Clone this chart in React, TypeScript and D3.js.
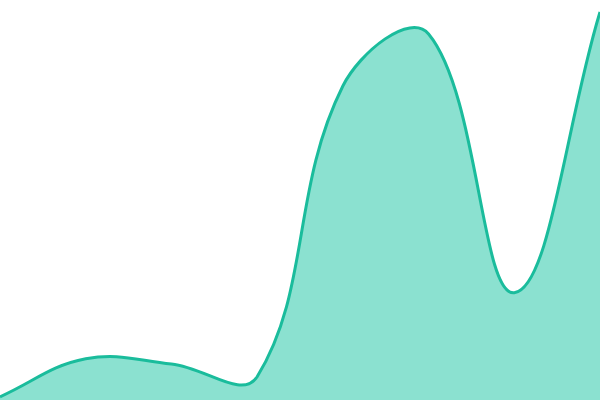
import * as d3 from "d3";
import { useEffect, useRef } from "react";

// eight evenly spaced samples (0..100 scale)
const labels = ["1", "2", "3", "4", "5", "6", "7", "8"];
const values = [0.8, 10.3, 9, 5.8, 78.5, 91.5, 26.8, 97];

const W = 600;
const H = 400;
const TENSION = 0.4;

type Pt = { x: number; y: number };

// spline with distance-weighted control points (tension 0.4)
function splinePath(pts: Pt[], close: boolean) {
  const cps = pts.map((cur, i) => {
    const prev = pts[i - 1] || cur;
    const next = pts[i + 1] || cur;
    const d01 = Math.hypot(cur.x - prev.x, cur.y - prev.y);
    const d12 = Math.hypot(next.x - cur.x, next.y - cur.y);
    let s01 = d01 / (d01 + d12);
    let s12 = d12 / (d01 + d12);
    if (isNaN(s01)) s01 = 0;
    if (isNaN(s12)) s12 = 0;
    const fa = TENSION * s01;
    const fb = TENSION * s12;
    const clampX = (v: number) => Math.max(0, Math.min(W, v));
    const clampY = (v: number) => Math.max(0, Math.min(H, v));
    return {
      px: clampX(cur.x - fa * (next.x - prev.x)),
      py: clampY(cur.y - fa * (next.y - prev.y)),
      nx: clampX(cur.x + fb * (next.x - prev.x)),
      ny: clampY(cur.y + fb * (next.y - prev.y)),
    };
  });
  const p = d3.path();
  p.moveTo(pts[0].x, pts[0].y);
  for (let i = 1; i < pts.length; i++) {
    p.bezierCurveTo(cps[i - 1].nx, cps[i - 1].ny, cps[i].px, cps[i].py, pts[i].x, pts[i].y);
  }
  if (close) {
    p.lineTo(pts[pts.length - 1].x, H);
    p.lineTo(pts[0].x, H);
    p.closePath();
  }
  return p.toString();
}

export default function App() {
  const ref = useRef<SVGSVGElement | null>(null);

  useEffect(() => {
    const svg = d3.select(ref.current);
    svg.selectAll("*").remove();

    const x = d3.scalePoint().domain(labels).range([0, W]);
    const y = d3.scaleLinear().domain([0, 100]).range([H, 0]);
    const pts = values.map((v, i) => ({ x: x(labels[i])!, y: y(v) }));

    svg.append("path").attr("d", splinePath(pts, true)).attr("fill", "#8be1d0");
    svg
      .append("path")
      .attr("d", splinePath(pts, false))
      .attr("fill", "none")
      .attr("stroke", "#1abc9c")
      .attr("stroke-width", 3);
  }, []);

  return (
    <svg
      ref={ref}
      width={W}
      height={H}
      style={{ position: "absolute", left: 0, top: 0, display: "block" }}
    />
  );
}
